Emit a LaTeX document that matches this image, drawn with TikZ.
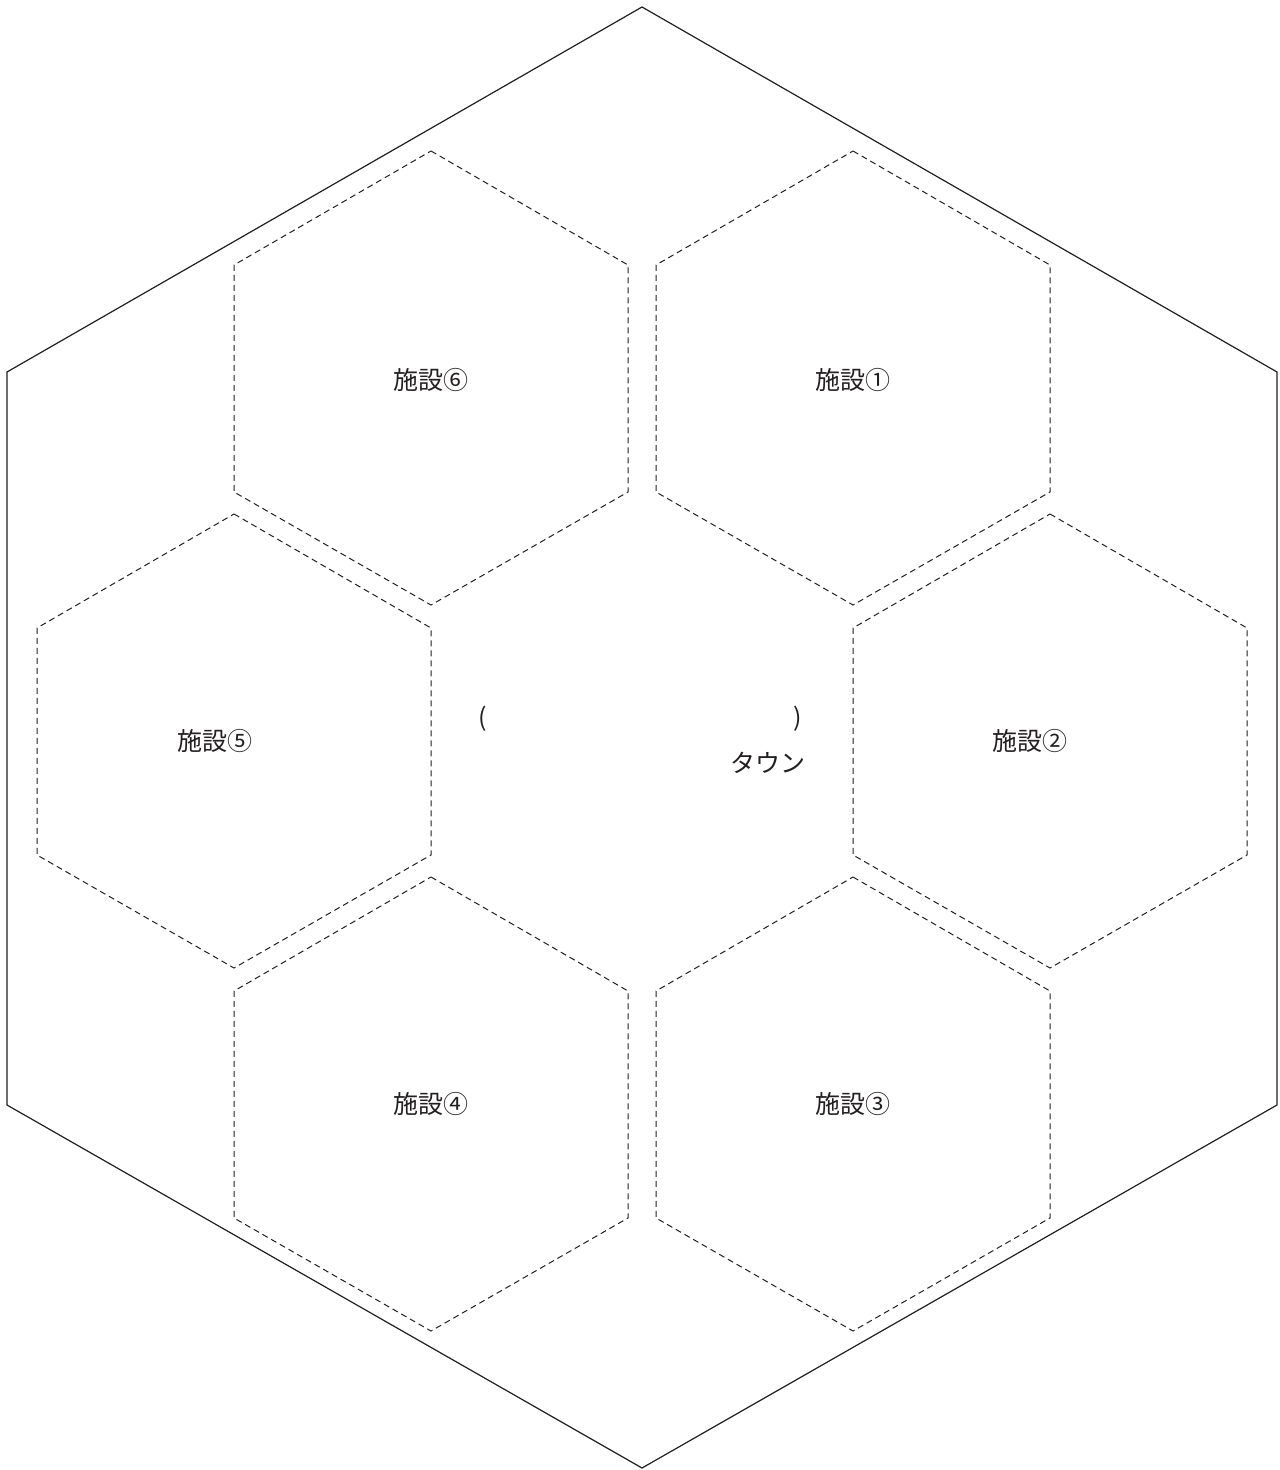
\documentclass[tikz,border=0pt]{standalone}
\usepackage{fontspec}
\setmainfont{Noto Sans CJK JP}
\definecolor{ink}{HTML}{231F20}
\begin{document}
\begin{tikzpicture}[x=0.5pt,y=-0.5pt,
  outerline/.style={draw=ink,line width=0.6pt},
  dashhex/.style={draw=ink,line width=0.5pt,dash pattern=on 3pt off 2pt},
  lbl/.style={text=ink,font=\fontsize{12.5pt}{14pt}\selectfont,inner sep=0pt}]
\useasboundingbox (0,0) rectangle (1279,1470);
\draw[outerline] (642,7) -- (1277,372) -- (1277,1105) -- (642,1468) -- (7,1105) -- (7,372) -- cycle;
\foreach \cx/\cy in {853/378, 1050/741, 853/1104, 431/1104, 234/741, 431/378}{
  \draw[dashhex] (\cx,\cy-227) -- (\cx+197,\cy-113) -- (\cx+197,\cy+114) -- (\cx,\cy+227) -- (\cx-197,\cy+114) -- (\cx-197,\cy-113) -- cycle;
}
\node[lbl] (f1) at (853,380) {施設①};
\node[lbl] (f2) at (1030,741) {施設②};
\node[lbl] (f3) at (853,1104) {施設③};
\node[lbl] (f4) at (431,1104) {施設④};
\node[lbl] (f5) at (215,741) {施設⑤};
\node[lbl] (f6) at (431,380) {施設⑥};
\node[lbl] (lp) at (483,719) {(};
\node[lbl] (rp) at (798,719) {)};
\node[lbl] (town) at (768,763) {タウン};
\end{tikzpicture}
\end{document}
